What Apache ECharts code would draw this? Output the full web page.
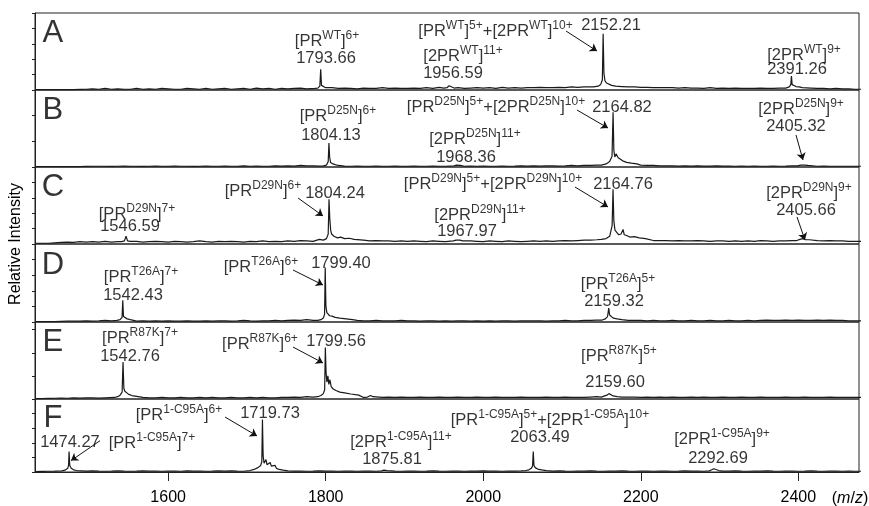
<!DOCTYPE html>
<html><head><meta charset="utf-8">
<script src="https://cdn.jsdelivr.net/npm/echarts@6/dist/echarts.min.js"></script>
<style>html,body{margin:0;padding:0;background:#fff}#c{width:869px;height:506px}</style>
</head><body><div id="c"></div>
<script>
const FONT = '"Liberation Sans", Arial, sans-serif';
const xMin = 1431, xMax = 2477;
const tickValues = [1600, 1800, 2000, 2200, 2400];
const baseStart = 1432, baseStep = 8;
const panelLetters = ['A', 'B', 'C', 'D', 'E', 'F'];
const yIntervals = [20, 100 / 3, 20, 20, 30, 20];

// baseline noise (relative intensity %, every 8 m/z from 1432)
const baseA = [0.5,0.5,0.5,0.5,0.5,0.6,0.6,0.8,1,1.5, 1,2,1,1.5,1,1,2,1,1.5,1, 2,1.5,1,1,2,1.5,1,2,1,1.5,
 2,1,1.5,2,1,2.5,1.5,2,1,2, 1.5,2,2.5,1.5,2,3,2.5,3,2,2.5, 2,1.5,2.5,2,2,3,2,2.5,2,2,
 2.5,2,3,2,3.5,2,2.5,3,2,2.5, 3,2.5,3,2,3.5,2.5,3,2.5,3,3, 3.5,3,3,3.5,3,4,3.5,4,4,4.5,
 5,6,5,4.5,4,4,3.5,3.5,3,3, 3,3,2.5,3,2.5,2.5,2,3,2,2.5, 2,2.5,2,2,2,2.5,2,2,2.5,2,
 2.5,3,3,2.5,2,2,1.5,2,1.5,1.5, 1,1];
const baseB = [0.5,0.5,0.5,0.5,0.5,0.5,0.5,0.6,0.8,1, 1,1,0.8,1,1.2,1,1,0.8,1,1.2, 1,1,1.2,1,1,0.8,1,1.2,1,1,
 1.2,1,1,1.5,1,1.2,1,1,1.5,1.2, 1.5,1.2,2,1.5,1.5,1.2,1.5,1.2,1,1.2, 1,1.2,1,1,1.2,1,1,1.2,1,1,
 1.2,1,1,1.2,1,1,1.5,1,1,1.2, 1,1.2,1,1,1.2,1,1.2,1.5,1.2,1.5, 1.2,1.5,1.5,1.2,1.5,2,1.5,2,2,2.5,
 3,4,4,3.5,3,2.5,2.5,2,2,1.5, 1.5,1.5,1.2,1.5,1.2,1.5,1.2,1.2,1.5,1.2, 1.2,1,1.2,1,1.2,1,1,1.2,1,1.2,
 1.5,1.5,1.2,1,1,1.2,1,1,1,1, 1,1];
const baseC = [1,1,1,1.5,2,2.5,2,3,2.5,3, 2.5,3.5,2.5,3,2.5,3,3.5,2.5,3,3.5, 3,2.5,3.5,3,2.5,3,4,3,2.5,3.5,
 3,3.5,3,2.5,3.5,3,4,3,3.5,3, 4,3.5,4.5,4,3.5,6,5,6,5,5.5, 5,4.5,5,4,4.5,4,4,3.5,4,3.5,
 4,3.5,3,4,3.5,3,3.5,4,3,4, 3.5,3,4,3.5,3,4,3.5,3,3.5,4, 3.5,4,3.5,4,4.5,4,4.5,5,5,5.5,
 6,8,7,6.5,6,5.5,5,5,4.5,4.5, 4.5,4,4.5,4,4,4.5,4,3.5,4,4, 3.5,4,3.5,4,3.5,4.5,4,3.5,4,4,
 4.5,5,4.5,5,4.5,4,4.5,4,4,3.5, 3.5,3.5];
const baseD = [0.5,0.5,0.5,0.5,0.8,1,1.2,1,1.5,1.2, 1.5,2,1.5,1.5,1.2,1.5,1.2,1.5,1.2,1.5, 1.2,1.5,1.2,1,1.5,1.2,1,1.5,1.2,1.5,
 1.5,1.2,1.5,2,1.5,1.2,1.5,1.5,2,1.5, 2,2.5,2,3,2,2,2,1.5,2,1.5, 1.5,2,1.5,1.5,2,1.5,1.5,1.5,2,1.5,
 1.5,1.2,1.5,1.5,1.2,1.5,1.2,1.5,1.5,1.2, 1.5,1.2,1.5,1.2,1.5,1.5,1.2,1.5,1.5,1.5, 1.5,1.2,1.5,1.5,2,1.5,1.5,2,2,2.5,
 3,3,2.5,2.5,2,2,2,1.5,2,1.5, 1.5,2,1.5,1.5,2,1.5,1.5,2,1.5,1.5, 2,1.5,1.5,2,1.5,2,2.5,2,2,2.5,
 2,2.5,2,2,2.5,2,2.5,2,2,1.5, 1.5,1.5];
const baseE = [0.5,0.5,0.8,1,1.2,1,1.5,1.2,1.5,1.5, 1.2,1.5,1.5,2,1.5,1.5,1.5,2,1.5,1.5, 2,1.5,1.5,2,1.5,1.5,2,1.5,2,1.5,
 1.5,2,1.5,1.5,2,1.5,2,1.5,1.5,2, 2,2.5,2,3,2.5,2.5,2,2.5,2.5,2, 2.5,2,2,2.5,2,2,2.5,2,2.5,2,
 2,2.5,2,2,2.5,2,2,2.5,2,2, 2.5,2,2,2.5,2,2,2,2.5,2,2, 2,2.5,2,2,2.5,2,2,2,2.5,3,
 3.5,3,3,2.5,2.5,2.5,2,2.5,2,2.5, 2,2.5,2,2,2.5,2,2.5,2,2,2.5, 2,2,2.5,2,2,2.5,2,2,2,2.5,
 2,2,2.5,2,2,2,2.5,2,2,2, 2,2];
const baseF = [0.5,0.8,1,1.2,1,1.2,1,1.5,1.2,1.5, 1.2,1,1.2,1.5,1.2,1,1.2,1.5,1.2,1.2, 1,1.2,1.2,1,1.5,1.2,1.2,1,1.2,1.5,
 1.2,1.5,1.2,1,1.2,1.5,1.2,1,1.2,1.2, 1.5,1.2,1.2,1,1.2,1.5,1.2,1.2,1,1.2, 1.2,1,1.2,1.2,1,1.2,1.5,1.2,1,1.2,
 1.2,1,1.2,1.5,1.2,1,1.2,1.2,1,1.2, 1.2,1.5,1.2,1.2,1,1.2,1.2,1.5,1.2,1.2, 1,1.2,1.2,1.5,1.2,1,1.2,1.2,1.5,1.2,
 1,1.2,1.2,1.5,1.2,1,1.2,1.2,1,1.2, 1.2,1,1.2,1.5,1.2,1.2,1,1.2,1.5,1.2, 1.2,1.5,1.2,1,1.2,1.2,1.5,1.2,1,1.2,
 1.2,1,1.2,1.5,1.2,1,1.2,1.2,1,1.2, 1,1];

// peak profiles [m/z, relative intensity %]
const peaksA = [[1786,2],[1790,2.5],[1792.6,5],[1793.66,27],[1794.7,6],[1797,4],[1800,3],
 [1950,2.5],[1954,3],[1956.6,5.5],[1959,3.5],[1963,2.5],
 [2140,4],[2146,5],[2149,7],[2151.2,13],[2152.21,73],[2153.2,22],[2154.5,12],[2156.5,9],[2159,7],[2163,6],[2168,5],
 [2384,2.5],[2388.5,4],[2390.4,7],[2391.26,18],[2392.1,7],[2394,6],[2397,4.5],[2401,4],[2405,3]];
const peaksB = [[1797,1.5],[1801,2.5],[1803.2,7],[1804.13,31],[1805,13],[1806.2,6],[1807.8,8],[1809.2,4],[1812,3],[1816,2],
 [1963,1.5],[1966,2.5],[1968.4,4],[1971,2],
 [2150,2.5],[2156,4],[2160.5,7],[2163.5,14],[2164.82,71],[2165.8,22],[2167,13],[2168.6,17],[2170,19],[2171.3,12],[2173.5,10],[2177,8],[2182,6],[2188,5],[2195,4],
 [2399,1.5],[2403,2.5],[2405.3,3.5],[2408,2.5],[2412,2]];
const peaksC = [[1541,3],[1544.5,4],[1546.59,10],[1548.5,4],[1552,3.5],
 [1797,5],[1801,7],[1803.2,13],[1804.24,58],[1805.2,33],[1806.3,18],[1807.5,13],[1809,15],[1810.5,10],[1813,11],[1815,8],[1819,9],[1824,7],[1830,7.5],[1836,6],
 [1962,4],[1965.5,5],[1968,7],[1970.5,5],[1974,4],
 [2150,6],[2156,7],[2160.5,10],[2163.6,24],[2164.76,71],[2165.8,30],[2167.2,18],[2169.5,16],[2172,12],[2175,13],[2177.5,19],[2179,12],[2182,11],[2186,9],[2192,9.5],[2198,8],[2206,7],
 [2398,4.5],[2402,6],[2405.7,7],[2409,5.5],[2414,5.5]];
const peaksD = [[1535,2],[1539,3],[1541.5,6],[1542.43,28],[1543.3,7],[1545,5],[1548,4],[1552,3],
 [1790,2],[1794,3],[1797,5],[1798.6,10],[1799.4,70],[1800.3,20],[1801.5,12],[1803,10],[1805,8],[1808,7.5],[1812,6],[1818,5],[1826,4],[1834,3],
 [2151,2.5],[2155,4],[2157.8,7],[2159.32,18],[2160.4,9],[2162,7],[2165,5],[2170,4],[2176,3]];
const peaksE = [[1532,2],[1536,3],[1539,5],[1541.6,9],[1542.76,48],[1543.8,14],[1545,10],[1547,8],[1550,6],[1554,4.5],[1560,3.5],
 [1790,3],[1794,4.5],[1797,7],[1798.7,12],[1799.56,67],[1800.5,34],[1801.5,22],[1802.8,30],[1804,19],[1805.4,25],[1807,16],[1809.5,13],[1813,11],[1818,9],[1824,8],[1832,6.5],[1842,5],
 [1853,2.5],[1857,4.5],[1860,3],
 [2150,2.5],[2154,4],[2157,5],[2159.6,7],[2162,5],[2165,4],[2170,3]];
const peaksF = [[1465,1.5],[1469,2.5],[1472.5,5],[1473.6,9],[1474.27,28],[1475.1,9],[1477,5],[1480,3],[1484,2],
 [1704,2],[1709,3.5],[1714,6],[1717.5,9],[1718.9,14],[1719.73,72],[1720.6,22],[1721.8,12],[1723,10],[1724.2,17],[1725.5,10],[1727.5,8],[1729.5,13],[1731,8],[1733.5,6],[1735.8,9],[1737.5,5],[1741,3.5],[1746,2.5],
 [1871,1.5],[1874,2.5],[1875.8,3.5],[1878,2],
 [2054,2],[2058,3],[2061,5],[2062.6,8],[2063.49,28],[2064.4,9],[2066,6],[2069,4],[2074,3],[2080,2],
 [2287,1.5],[2290,3],[2292.7,4.5],[2295,3],[2299,2]];

// annotation texts [m/z, y%, text]; ^...^ marks superscript
const labelsA = [[1801.7,65,'[PR^WT^]^6+^'],[1800.4,43,'1793.66'],[2015.6,78,'[PR^WT^]^5+^+[2PR^WT^]^10+^'],[2162.2,85.7,'2152.21'],
 [1974.3,45.5,'[2PR^WT^]^11+^'],[1961.6,23.4,'1956.59'],[2407.2,46.8,'[2PR^WT^]^9+^'],[2398.3,28.6,'2391.26']];
const labelsB = [[1815.6,67.5,'[PR^D25N^]^6+^'],[1806.7,42.9,'1804.13'],[2016.2,79.2,'[PR^D25N^]^5+^+[2PR^D25N^]^10+^'],[2176.1,79.2,'2164.82'],
 [1989.5,37.7,'[2PR^D25N^]^11+^'],[1978.1,14.3,'1968.36'],[2403.4,76.6,'[2PR^D25N^]^9+^'],[2397,54.5,'2405.32']];
const labelsC = [[1560.5,40.3,'[PR^D29N^]^7+^'],[1551.6,24.7,'1546.59'],[1720.4,70.1,'[PR^D29N^]^6+^'],[1811.8,67.5,'1804.24'],
 [2012.4,79.2,'[PR^D29N^]^5+^+[2PR^D29N^]^10+^'],[2177.4,79.2,'2164.76'],[1995.9,39,'[2PR^D29N^]^11+^'],[1979.4,18.2,'1967.97'],
 [2413.5,67.5,'[2PR^D29N^]^9+^'],[2409.7,45.5,'2405.66']];
const labelsD = [[1565.6,59,'[PR^T26A^]^7+^'],[1555.4,35.9,'1542.43'],[1717.9,71.8,'[PR^T26A^]^6+^'],[1819.4,76.9,'1799.40'],
 [2171.1,50,'[PR^T26A^]^5+^'],[2166,28.2,'2159.32']];
const labelsE = [[1564.3,80.5,'[PR^R87K^]^7+^'],[1551.6,57.1,'1542.76'],[1716.6,72.7,'[PR^R87K^]^6+^'],[1813.1,76.6,'1799.56'],
 [2172.3,57.1,'[PR^R87K^]^5+^'],[2167.3,23.4,'2159.60']];
const labelsF = [[1613.8,79.2,'[PR^1-C95A^]^6+^'],[1729.3,81.8,'1719.73'],[1475.4,42.9,'1474.27'],[1579.5,41.6,'[PR^1-C95A^]^7+^'],
 [1895.6,42.9,'[2PR^1-C95A^]^11+^'],[1884.2,19.5,'1875.81'],[2084.7,72.7,'[PR^1-C95A^]^5+^+[2PR^1-C95A^]^10+^'],[2072,49.4,'2063.49'],
 [2303.1,46.8,'[2PR^1-C95A^]^9+^'],[2298,20.8,'2292.69']];

// arrows [x1, y1, x2, y2] in m/z and %
const arrowsA = [[2105.1,76.6,2144.4,50.6]];
const arrowsB = [[2119,74,2158.4,50.6],[2397,41.6,2405.9,9.1]];
const arrowsC = [[1764.9,59.7,1796.6,36.4],[2116.5,74,2158.4,48.1],[2398.3,35.1,2408.4,5.2]];
const arrowsD = [[1758.5,66.7,1796.6,47.4]];
const arrowsE = [[1758.5,67.5,1796.6,46.8]];
const arrowsF = [[1672.2,75.3,1712.8,49.4],[1513.5,42.9,1476.7,15.6]];

const bases = [baseA, baseB, baseC, baseD, baseE, baseF];
const peaks = [peaksA, peaksB, peaksC, peaksD, peaksE, peaksF];
const labels = [labelsA, labelsB, labelsC, labelsD, labelsE, labelsF];
const arrows = [arrowsA, arrowsB, arrowsC, arrowsD, arrowsE, arrowsF];
const tops = [13, 90, 167, 244, 322, 399];
const heights = [77, 77, 77, 78, 77, 77];

function buildLine(base, pk) {
  const pts = pk.map(p => p.slice());
  base.forEach((v, i) => {
    const mz = baseStart + i * baseStep;
    if (!pk.some(p => Math.abs(p[0] - mz) < 5)) pts.push([mz, v]);
  });
  pts.sort((a, b) => a[0] - b[0]);
  return pts;
}
function rt(s) {
  return s.split('^').map((p, i) => p ? (i % 2 ? '{s|' + p + '}' : '{n|' + p + '}') : '').join('');
}
const TXT = '#000';
const rich = {
  n: { fontSize: 16.5, lineHeight: 20, verticalAlign: 'bottom', fontFamily: FONT, color: TXT },
  s: { fontSize: 12, lineHeight: 12, verticalAlign: 'top', fontFamily: FONT, color: TXT },
  L: { fontSize: 31, lineHeight: 32, fontFamily: FONT, color: TXT }
};

const series = [];
for (let i = 0; i < 6; i++) {
  series.push({
    type: 'line', xAxisIndex: i, yAxisIndex: i, data: buildLine(bases[i], peaks[i]),
    showSymbol: false, symbol: 'none', lineStyle: { color: '#1a1a1a', width: 1.2 }, silent: true,
    markLine: {
      silent: true, symbol: ['none', 'arrow'], symbolSize: 7, animation: false,
      lineStyle: { color: '#111', width: 1, type: 'solid' }, label: { show: false },
      data: arrows[i].map(a => [{ coord: [a[0], a[1]] }, { coord: [a[2], a[3]] }])
    }
  });
  const items = labels[i].map(l => ({ value: [l[0], l[1]], name: rt(l[2]) }));
  items.push({ value: [1453.8, 73], name: '{L|' + panelLetters[i] + '}' });
  series.push({
    type: 'scatter', xAxisIndex: i, yAxisIndex: i, data: items, symbolSize: 1, silent: true,
    itemStyle: { color: 'rgba(0,0,0,0)' }, z: 5,
    label: { show: true, position: 'inside', formatter: p => p.name, rich: rich, color: TXT, textBorderWidth: 0, fontFamily: FONT }
  });
}

const option = {
  animation: false, backgroundColor: '#fff',
  grid: tops.map((t, i) => ({ left: 35, right: 10, top: t, height: heights[i], show: true, borderColor: '#222', borderWidth: 1, backgroundColor: 'transparent' })),
  xAxis: tops.map((t, i) => ({
    gridIndex: i, type: 'value', min: xMin, max: xMax, show: i === 5,
    axisLine: { show: true, lineStyle: { color: '#222', width: 1 } },
    axisTick: { show: true, inside: false, length: 9, customValues: tickValues, lineStyle: { color: '#222' } },
    axisLabel: { show: true, customValues: tickValues, margin: 18, fontSize: 16, fontFamily: FONT, color: TXT, formatter: v => String(v) },
    splitLine: { show: false }
  })),
  yAxis: tops.map((t, i) => ({
    gridIndex: i, type: 'value', min: 0, max: 100, interval: yIntervals[i],
    axisLine: { show: true, lineStyle: { color: '#222' } },
    axisTick: { show: true, length: 3, lineStyle: { color: '#222' } },
    axisLabel: { show: false }, splitLine: { show: false }
  })),
  graphic: [
    { type: 'text', x: 16, y: 244, rotation: Math.PI / 2,
      style: { text: 'Relative Intensity', fontSize: 16, fontFamily: FONT, fill: TXT, align: 'center', verticalAlign: 'middle' } },
    { type: 'text', x: 850, y: 499,
      style: { text: '({i|m}/{i|z})', fontSize: 16, fontFamily: FONT, fill: TXT, align: 'center', verticalAlign: 'middle',
        rich: { i: { fontStyle: 'italic', fontSize: 16, fontFamily: FONT, fill: TXT } } } }
  ],
  series: series
};
const chart = echarts.init(document.getElementById('c'), null, { renderer: 'canvas' });
chart.setOption(option);
</script></body></html>
